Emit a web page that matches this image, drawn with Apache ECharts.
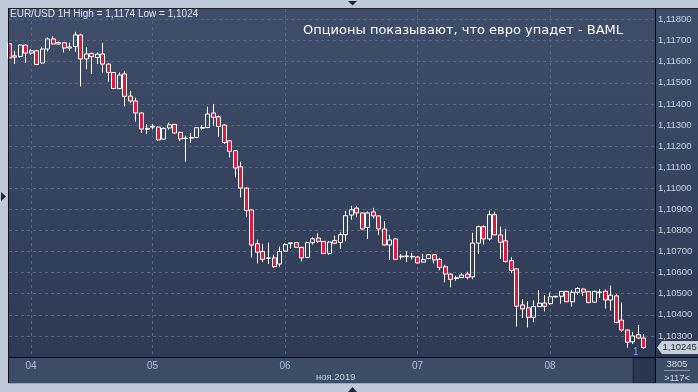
<!DOCTYPE html>
<html><head><meta charset="utf-8">
<script src="https://cdn.jsdelivr.net/npm/echarts@6/dist/echarts.min.js"></script>
<style>html,body{margin:0;padding:0;background:#bfcad8;}#c{width:698px;height:392px;}</style>
</head><body><div id="c"></div>
<script>
// ---- data ----
const dayLabels = ['03','04','05','06','07','08'];
const hoursPerDay = [4, 22, 24, 24, 24, 20];
const firstHour = [20, 0, 0, 0, 0, 0];
const categories = [];
dayLabels.forEach((d, k) => { for (let h = 0; h < hoursPerDay[k]; h++) { const hh = firstHour[k] + h; categories.push(d + ' ' + (hh < 10 ? '0' : '') + hh + ':00'); } });

const opens = [1.11685,1.11622,1.11625,1.11679,1.11641,1.11652,1.11594,1.11660,1.11708,1.11684,1.11690,1.11665,1.11672,1.11727,1.11613,1.11639,1.11620,1.11637,1.11589,1.11549,1.11473,1.11542,1.11437,1.11414,1.11357,1.11280,1.11290,1.11290,1.11233,1.11286,1.11303,1.11265,1.11236,1.11238,1.11241,1.11285,1.11288,1.11357,1.11339,1.11300,1.11225,1.11178,1.11102,1.11001,1.10897,1.10737,1.10700,1.10668,1.10670,1.10641,1.10702,1.10738,1.10742,1.10720,1.10672,1.10742,1.10764,1.10748,1.10691,1.10752,1.10743,1.10780,1.10873,1.10906,1.10883,1.10814,1.10888,1.10869,1.10807,1.10731,1.10760,1.10675,1.10676,1.10677,1.10674,1.10650,1.10667,1.10685,1.10663,1.10628,1.10593,1.10572,1.10577,1.10593,1.10580,1.10740,1.10818,1.10760,1.10875,1.10779,1.10751,1.10657,1.10618,1.10447,1.10433,1.10388,1.10439,1.10456,1.10453,1.10485,1.10488,1.10511,1.10462,1.10507,1.10522,1.10511,1.10460,1.10505,1.10512,1.10470,1.10490,1.10375,1.10328,1.10272,1.10306,1.10290];
const closes = [1.11618,1.11628,1.11679,1.11641,1.11652,1.11587,1.11660,1.11708,1.11684,1.11691,1.11665,1.11670,1.11727,1.11613,1.11637,1.11624,1.11636,1.11589,1.11549,1.11473,1.11537,1.11436,1.11414,1.11357,1.11281,1.11284,1.11294,1.11229,1.11284,1.11301,1.11262,1.11234,1.11238,1.11240,1.11287,1.11288,1.11352,1.11336,1.11293,1.11217,1.11175,1.11096,1.11001,1.10894,1.10731,1.10697,1.10663,1.10670,1.10628,1.10700,1.10733,1.10741,1.10720,1.10670,1.10742,1.10760,1.10748,1.10691,1.10745,1.10739,1.10780,1.10870,1.10898,1.10883,1.10807,1.10883,1.10869,1.10807,1.10731,1.10755,1.10663,1.10678,1.10679,1.10675,1.10646,1.10662,1.10685,1.10660,1.10624,1.10593,1.10568,1.10576,1.10589,1.10577,1.10740,1.10818,1.10760,1.10875,1.10779,1.10744,1.10653,1.10610,1.10441,1.10428,1.10388,1.10439,1.10455,1.10440,1.10486,1.10488,1.10511,1.10462,1.10507,1.10525,1.10508,1.10458,1.10511,1.10508,1.10470,1.10493,1.10364,1.10328,1.10270,1.10300,1.10290,1.10245];
const highs = [1.11690,1.11652,1.11684,1.11684,1.11660,1.11657,1.11671,1.11715,1.11720,1.11695,1.11692,1.11691,1.11742,1.11733,1.11668,1.11644,1.11644,1.11689,1.11592,1.11550,1.11549,1.11557,1.11462,1.11429,1.11360,1.11305,1.11305,1.11293,1.11288,1.11312,1.11305,1.11268,1.11249,1.11262,1.11290,1.11300,1.11387,1.11400,1.11345,1.11302,1.11228,1.11180,1.11126,1.11003,1.10899,1.10756,1.10737,1.10742,1.10685,1.10724,1.10740,1.10742,1.10745,1.10722,1.10747,1.10767,1.10786,1.10750,1.10750,1.10775,1.10791,1.10892,1.10917,1.10917,1.10885,1.10890,1.10907,1.10870,1.10845,1.10779,1.10765,1.10689,1.10703,1.10694,1.10678,1.10689,1.10688,1.10688,1.10670,1.10637,1.10596,1.10585,1.10597,1.10604,1.10789,1.10823,1.10824,1.10894,1.10889,1.10818,1.10808,1.10673,1.10620,1.10475,1.10465,1.10468,1.10517,1.10494,1.10505,1.10490,1.10512,1.10514,1.10517,1.10530,1.10526,1.10512,1.10515,1.10522,1.10520,1.10538,1.10497,1.10458,1.10330,1.10319,1.10352,1.10309];
const lows = [1.11610,1.11589,1.11620,1.11594,1.11633,1.11584,1.11590,1.11649,1.11682,1.11680,1.11644,1.11652,1.11647,1.11483,1.11565,1.11542,1.11589,1.11549,1.11505,1.11470,1.11470,1.11388,1.11404,1.11316,1.11262,1.11257,1.11280,1.11225,1.11231,1.11278,1.11258,1.11224,1.11126,1.11215,1.11238,1.11275,1.11285,1.11297,1.11244,1.11210,1.11146,1.11052,1.10957,1.10862,1.10671,1.10644,1.10650,1.10641,1.10622,1.10628,1.10700,1.10712,1.10718,1.10653,1.10670,1.10733,1.10740,1.10688,1.10685,1.10735,1.10712,1.10748,1.10851,1.10862,1.10802,1.10760,1.10857,1.10779,1.10728,1.10660,1.10660,1.10663,1.10650,1.10663,1.10643,1.10648,1.10664,1.10644,1.10612,1.10554,1.10530,1.10562,1.10575,1.10568,1.10568,1.10688,1.10733,1.10751,1.10777,1.10665,1.10648,1.10597,1.10345,1.10385,1.10340,1.10365,1.10437,1.10416,1.10448,1.10482,1.10453,1.10460,1.10439,1.10494,1.10490,1.10455,1.10458,1.10480,1.10430,1.10420,1.10360,1.10318,1.10244,1.10262,1.10285,1.10238];
const lastPrice = 1.10245;
const titleText = 'EUR/USD 1H High = 1,1174 Low = 1,1024';
const noteText = 'Опционы показывают, что евро упадет - BAML';
const monthText = 'ноя.2019';

// ---- build ----
const candles = opens.map((o, i) => [o, closes[i], lows[i], highs[i]]);
const fmt = v => v.toFixed(5).replace('.', ',');
const isDayStart = (idx) => categories[idx] && categories[idx].slice(3) === '00:00';

const chart = echarts.init(document.getElementById('c'), null, {renderer: 'canvas'});
const gridColor = '#56647f';
const baseGraphics = [
  {type:'rect', shape:{x:8,y:357,width:690,height:26}, style:{fill:'#3e4b65'}, z:-10, silent:true},
  {type:'rect', shape:{x:9,y:8,width:689,height:349}, style:{fill:new echarts.graphic.LinearGradient(0,0,0,1,[{offset:0,color:'#404d69'},{offset:1,color:'#2e3a54'}])}, z:-10, silent:true},
  {type:'rect', shape:{x:633,y:358,width:22,height:25}, style:{fill:'#2a3650', stroke:'#1c2536', lineWidth:1}, z:-5, silent:true},
  {type:'line', shape:{x1:8.5,y1:8,x2:8.5,y2:383}, style:{stroke:'#0e1420', lineWidth:1}, z:50},
  {type:'line', shape:{x1:8,y1:8.5,x2:698,y2:8.5}, style:{stroke:'#1a2130', lineWidth:1}, z:50},
  {type:'line', shape:{x1:655.5,y1:8,x2:655.5,y2:383}, style:{stroke:'#05080d', lineWidth:1}, z:50},
  {type:'line', shape:{x1:8,y1:357.5,x2:698,y2:357.5}, style:{stroke:'#05080d', lineWidth:1}, z:50},
  {type:'line', shape:{x1:8,y1:383.5,x2:698,y2:383.5}, style:{stroke:'#9aa8ba', lineWidth:1}, z:50},
  {type:'polygon', shape:{points:[[348,1],[357,1],[352.5,5.5]]}, style:{fill:'#1e2633'}, z:50},
  {type:'polygon', shape:{points:[[1,192],[1,201],[6,196.5]]}, style:{fill:'#1e2633'}, z:50},
  {type:'polygon', shape:{points:[[348,392],[357,392],[352.5,387]]}, style:{fill:'#1e2633'}, z:50},
  {type:'text', x:316, y:372, style:{text:monthText, fill:'#c9d3e0', fontSize:9.5, fontFamily:'Liberation Sans'}, z:50},
  {type:'text', x:633, y:347, style:{text:'1', fill:'#7fa6d8', fontSize:10, fontFamily:'Liberation Sans'}, z:50},
  {type:'text', x:677, y:364, style:{text:'3805', fill:'#d4dce7', fontSize:9.5, fontFamily:'Liberation Sans', align:'center', verticalAlign:'middle'}, z:50},
  {type:'line', shape:{x1:664,y1:370.5,x2:690,y2:370.5}, style:{stroke:'#8391a6', lineWidth:1}, z:50},
  {type:'text', x:677, y:378, style:{text:'>117<', fill:'#d4dce7', fontSize:9.5, fontFamily:'Liberation Sans', align:'center', verticalAlign:'middle'}, z:50}
];

const option = {
  backgroundColor: '#bfcad8',
  animation: false,
  title: [
    {text: titleText, left: 10, top: 9, padding: 0, textStyle:{color:'#dde6f1', fontSize:10, fontWeight:'normal', fontFamily:'Liberation Sans'}},
    {text: noteText, left: 303, top: 24, padding: 0, textStyle:{color:'#ffffff', fontSize:13, fontWeight:'normal', fontFamily:'DejaVu Sans'}}
  ],
  grid: {left: 9, right: 43, top: 9, bottom: 35, containLabel: false},
  xAxis: {
    type: 'category', data: categories, boundaryGap: false,
    axisLine: {show: false}, axisTick: {show: false},
    axisLabel: {interval: (idx) => isDayStart(idx), formatter: v => v.slice(0, 2), color: '#a9c2e3', fontSize: 10, fontFamily: 'Liberation Sans', margin: 4},
    splitLine: {show: true, interval: (idx) => isDayStart(idx), lineStyle: {color: gridColor, type: [3, 3], width: 1}}
  },
  yAxis: {
    type: 'value', position: 'right', scale: true, min: 1.102, max: 1.1185, interval: 0.001,
    axisLine: {show: false}, axisTick: {show: false},
    axisLabel: {formatter: fmt, color: '#c9d4e3', fontSize: 9.5, fontFamily: 'Liberation Sans', margin: 3, showMinLabel: false, showMaxLabel: false},
    splitLine: {show: true, showMinLine: false, showMaxLine: false, lineStyle: {color: gridColor, type: [3, 3], width: 1}}
  },
  series: [{
    type: 'candlestick', data: candles, barWidth: 4.5, clip: true,
    itemStyle: {color: 'rgba(0,0,0,0)', color0: '#e3173b', borderColor: '#ffffff', borderColor0: '#ffffff', borderWidth: 1}
  }],
  graphic: baseGraphics
};
chart.setOption(option);
const py = chart.convertToPixel({yAxisIndex: 0}, lastPrice);
chart.setOption({graphic: baseGraphics.concat([
  {type:'polygon', shape:{points:[[657, py], [662, py - 6.5], [662, py + 6.5]]}, style:{fill:'#c8d0d9'}, z:60},
  {type:'rect', shape:{x:662, y:py - 6.5, width:36, height:13}, style:{fill:'#c8d0d9'}, z:60},
  {type:'text', x:662.5, y:py, style:{text:fmt(lastPrice), fill:'#1a2233', fontSize:9.5, fontFamily:'Liberation Sans', verticalAlign:'middle', align:'left'}, z:61}
])});
</script></body></html>
